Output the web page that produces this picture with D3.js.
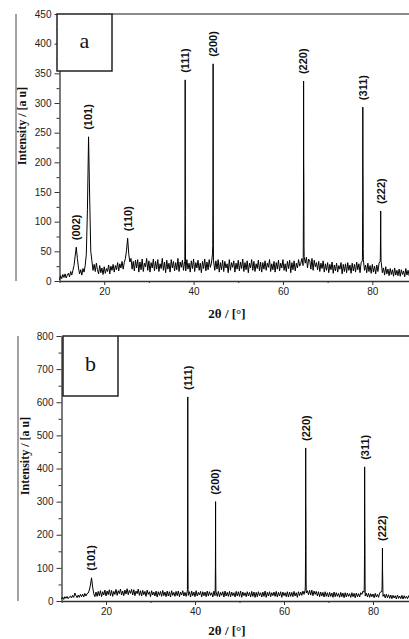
<!DOCTYPE html>
<html>
<head>
<meta charset="utf-8">
<script src="https://cdn.jsdelivr.net/npm/d3@7"></script>
<style>
  body { margin: 0; background: #fff; }
  .tick text { font-family: "Liberation Sans", Arial, sans-serif; font-size: 10px; fill: #222; }
  .hkl { font-family: "Liberation Sans", Arial, sans-serif; font-size: 11px; font-weight: bold; fill: #111; }
  .title { font-family: "Liberation Serif", "Times New Roman", serif; font-weight: bold; fill: #111; }
</style>
</head>
<body>
<div id="chart"></div>
<script>
// scan settings: counts are sampled every 0.25 deg from 10 deg
const startDeg = 10, stepDeg = 0.25;

// panel a background counts (10.00 .. 89.75)
const countsA = [
  2, 9, 4, 11, 6, 12, 5, 10,
  13, 7, 16, 10, 18, 26, 42, 57,
  38, 22, 12, 19, 10, 21, 15, 26,
  45, 120, 243, 140, 50, 34, 18, 28,
  16, 30, 19, 12, 26, 14, 22, 11,
  24, 13, 21, 16, 27, 12, 25, 18,
  28, 15, 26, 19, 31, 17, 29, 22,
  33, 20, 31, 38, 52, 72, 45, 32,
  38, 20, 33, 17, 35, 22, 36, 15,
  32, 19, 37, 16, 30, 24, 38, 18,
  34, 15, 31, 22, 37, 17, 33, 20,
  36, 16, 29, 21, 38, 18, 32, 14,
  35, 20, 30, 15, 36, 22, 33, 17,
  31, 19, 38, 16, 32, 23, 35, 18,
  33, 17, 36, 20, 30, 15, 34, 21,
  37, 16, 31, 22, 35, 18, 30, 14,
  33, 21, 37, 17, 32, 19, 36, 23,
  30, 47, 32, 18, 34, 20, 36, 15,
  31, 19, 35, 16, 33, 22, 29, 14,
  36, 18, 31, 23, 34, 15, 30, 20,
  35, 17, 32, 21, 37, 16, 31, 19,
  34, 14, 30, 22, 36, 18, 33, 16,
  29, 21, 35, 17, 32, 15, 31, 20,
  34, 18, 30, 23, 36, 16, 29, 19,
  33, 15, 31, 20, 35, 17, 30, 22,
  36, 18, 29, 16, 33, 21, 35, 14,
  31, 19, 34, 17, 30, 22, 36, 25,
  30, 38, 26, 41, 30, 40, 22, 37,
  34, 20, 38, 18, 35, 24, 31, 19,
  33, 16, 30, 21, 34, 15, 29, 18,
  31, 14, 28, 19, 32, 13, 27, 17,
  30, 15, 26, 20, 31, 12, 28, 16,
  29, 14, 31, 18, 27, 13, 30, 17,
  28, 15, 32, 19, 29, 14, 31, 34,
  36, 18, 27, 14, 30, 16, 26, 13,
  28, 15, 25, 12, 27, 16, 30, 33,
  31, 14, 22, 10, 24, 12, 20, 9,
  21, 11, 19, 8, 22, 10, 18, 9,
  20, 8, 19, 11, 17, 7, 21, 10,
  18, 9, 20, 7, 16, 10, 19, 8
];

// panel a sharp reflections [2theta, counts]
const peaksA = [
  [38.045, 35], [38.095, 120], [38.125, 339], [38.155, 110], [38.205, 32],
  [44.295, 60], [44.345, 150], [44.375, 366], [44.405, 130], [44.455, 35],
  [64.545, 40], [64.595, 140], [64.625, 337], [64.65, 210], [64.68, 172], [64.72, 60],
  [77.795, 40], [77.845, 120], [77.875, 293], [77.9, 200], [77.93, 160], [77.97, 55],
  [81.8, 40], [81.85, 80], [81.875, 118], [81.9, 75], [81.95, 35]
];

const hklA = ["(002)", "(101)", "(110)", "(111)", "(200)", "(220)", "(311)", "(222)"];
const hklPosA = [13.75, 16.5, 25.25, 38.125, 44.375, 64.625, 77.875, 81.875];
const hklTopA = [57, 243, 72, 339, 366, 337, 293, 118];

// panel b background counts (10.00 .. 89.75)
const countsB = [
  6, 12, 5, 13, 8, 14, 7, 12,
  15, 9, 17, 11, 24, 16, 10, 18,
  11, 20, 13, 21, 12, 23, 15, 22,
  24, 33, 48, 70, 42, 22, 13, 27,
  14, 29, 16, 31, 13, 28, 18, 33,
  15, 30, 19, 34, 16, 32, 14, 29,
  20, 35, 17, 31, 22, 36, 18, 30,
  16, 33, 21, 37, 19, 32, 23, 35,
  18, 34, 16, 30, 22, 36, 17, 31,
  15, 32, 19, 29, 14, 33, 20, 28,
  13, 31, 18, 27, 15, 30, 12, 28,
  17, 29, 14, 32, 16, 27, 13, 30,
  15, 28, 12, 31, 17, 26, 14, 29,
  16, 30, 13, 27, 18, 31, 15, 26,
  14, 29, 17, 28, 12, 30, 16, 27,
  13, 31, 15, 26, 18, 29, 12, 28,
  16, 27, 13, 30, 15, 28, 17, 25,
  12, 30, 16, 27, 14, 29, 13, 26,
  17, 28, 12, 30, 15, 26, 14, 29,
  13, 27, 16, 25, 12, 29, 15, 28,
  14, 30, 11, 27, 16, 25, 13, 28,
  15, 26, 12, 29, 14, 27, 11, 26,
  13, 28, 16, 25, 12, 27, 14, 30,
  11, 26, 15, 28, 13, 25, 16, 27,
  14, 29, 12, 26, 15, 28, 11, 27,
  16, 25, 13, 28, 12, 27, 14, 26,
  13, 29, 15, 25, 11, 28, 16, 27,
  17, 30, 20, 33, 24, 31, 19, 32,
  18, 33, 16, 30, 20, 29, 15, 28,
  13, 27, 15, 26, 12, 28, 14, 25,
  12, 26, 14, 24, 11, 27, 13, 25,
  14, 23, 11, 26, 13, 24, 10, 25,
  12, 24, 14, 22, 11, 25, 13, 23,
  10, 24, 13, 22, 12, 25, 20, 30,
  26, 15, 24, 12, 23, 11, 22, 13,
  21, 10, 23, 12, 20, 11, 24, 28,
  28, 14, 20, 9, 21, 10, 19, 8,
  18, 7, 17, 9, 16, 6, 18, 8,
  15, 7, 17, 6, 16, 8, 14, 7,
  16, 6, 15, 8, 13, 7, 14, 6
];

// panel b sharp reflections [2theta, counts]
const peaksB = [
  [38.295, 35], [38.345, 180], [38.375, 616], [38.405, 160], [38.455, 35],
  [44.545, 40], [44.595, 110], [44.625, 300], [44.655, 100], [44.705, 30],
  [64.795, 45], [64.845, 150], [64.875, 462], [64.9, 300], [64.93, 245], [64.97, 70],
  [78.045, 45], [78.095, 140], [78.125, 405], [78.15, 260], [78.18, 200], [78.22, 55],
  [82.045, 45], [82.095, 100], [82.125, 160], [82.15, 90], [82.18, 72], [82.22, 35]
];

const hklB = ["(101)", "(111)", "(200)", "(220)", "(311)", "(222)"];
const hklPosB = [16.75, 38.375, 44.625, 64.875, 78.125, 82.125];
const hklTopB = [70, 616, 300, 462, 405, 160];

// tick values
const xTicks = [20, 40, 60, 80];
const xMinor = [10, 30, 50, 70, 90];
const yTicksA = [0, 50, 100, 150, 200, 250, 300, 350, 400, 450];
const yMinorA = [25, 75, 125, 175, 225, 275, 325, 375, 425];
const yTicksB = [0, 100, 200, 300, 400, 500, 600, 700, 800];
const yMinorB = [50, 150, 250, 350, 450, 550, 650, 750];

const width = 409, height = 639;

const svg = d3.select("#chart")
  .append("svg")
    .attr("width", width)
    .attr("height", height)
    .style("display", "block");

function buildSeries(counts, peaks) {
  return counts.map((c, i) => [startDeg + i * stepDeg, c])
    .concat(peaks)
    .sort((p, q) => p[0] - q[0]);
}

function drawPanel(p) {
  const x = d3.scaleLinear().domain([10, 90]).range([p.x0, p.x1]);
  const y = d3.scaleLinear().domain([0, p.yMax]).range([p.yBottom, p.yTop]);
  const g = svg.append("g");

  // thin frame line left of the y label
  g.append("line")
    .attr("x1", p.frameX).attr("x2", p.frameX)
    .attr("y1", y(p.yMax)).attr("y2", y(0))
    .attr("stroke", "#444").attr("stroke-width", 1);

  // Add X axis
  g.append("g")
    .attr("transform", `translate(0,${y(0)})`)
    .call(d3.axisBottom(x).tickValues(xTicks).tickSize(4).tickSizeOuter(0).tickPadding(3))
    .call(a => a.select(".domain").attr("stroke", "#333").attr("stroke-width", 1.3))
    .call(a => a.selectAll(".tick line").attr("stroke", "#333"));
  g.append("g")
    .attr("transform", `translate(0,${y(0)})`)
    .call(d3.axisBottom(x).tickValues(xMinor).tickSize(2).tickFormat(""))
    .call(a => a.select(".domain").remove())
    .call(a => a.selectAll(".tick line").attr("stroke", "#333"));

  // Add Y axis
  g.append("g")
    .attr("transform", `translate(${x(10)},0)`)
    .call(d3.axisLeft(y).tickValues(p.yTicks).tickSize(5).tickSizeOuter(0).tickPadding(3))
    .call(a => a.select(".domain").attr("stroke", "#333").attr("stroke-width", 1.3))
    .call(a => a.selectAll(".tick line").attr("stroke", "#333"));
  g.append("g")
    .attr("transform", `translate(${x(10)},0)`)
    .call(d3.axisLeft(y).tickValues(p.yMinor).tickSize(3).tickFormat(""))
    .call(a => a.select(".domain").remove())
    .call(a => a.selectAll(".tick line").attr("stroke", "#333"));

  // top border line
  g.append("line")
    .attr("x1", p.boxX + p.boxW).attr("x2", width)
    .attr("y1", y(p.yMax)).attr("y2", y(p.yMax))
    .attr("stroke", p.topColor).attr("stroke-width", p.topWidth);

  // the pattern
  g.append("path")
    .datum(buildSeries(p.counts, p.peaks))
    .attr("fill", "none")
    .attr("stroke", "#000")
    .attr("stroke-width", 1)
    .attr("d", d3.line()
      .x(d => x(d[0]))
      .y(d => y(d[1])));

  // reflection labels
  g.selectAll(".hkl")
    .data(p.hkl)
    .join("text")
      .attr("class", "hkl")
      .attr("transform", (d, i) => `translate(${x(p.hklPos[i])},${y(p.hklTop[i]) - 7}) rotate(-90)`)
      .attr("dy", "0.35em")
      .attr("text-anchor", "start")
      .text(d => d);

  // panel letter box
  g.append("rect")
    .attr("x", p.boxX).attr("y", y(p.yMax))
    .attr("width", p.boxW).attr("height", p.boxH)
    .attr("fill", "#fff").attr("stroke", "#222").attr("stroke-width", 1.5);
  g.append("text")
    .attr("x", p.boxX + p.boxW / 2)
    .attr("y", y(p.yMax) + p.letterBase)
    .attr("text-anchor", "middle")
    .style("font-family", "'Liberation Serif', 'Times New Roman', serif")
    .style("font-size", "22px")
    .attr("fill", "#111")
    .text(p.letter);

  // axis titles
  g.append("text")
    .attr("class", "title")
    .attr("x", 227)
    .attr("y", p.xTitleY)
    .attr("text-anchor", "middle")
    .style("font-size", "13px")
    .text("2θ / [°]");
  g.append("text")
    .attr("class", "title")
    .attr("transform", `translate(${p.yTitleX},${p.yTitleY}) rotate(-90)`)
    .attr("text-anchor", "middle")
    .style("font-size", "12px")
    .text("Intensity / [a u]");
}

drawPanel({
  counts: countsA, peaks: peaksA, hkl: hklA, hklPos: hklPosA, hklTop: hklTopA,
  yMax: 450, yTicks: yTicksA, yMinor: yMinorA,
  x0: 59.5, x1: 417, yBottom: 281, yTop: 14,
  frameX: 16, boxX: 57, boxW: 55, boxH: 57, letter: "a", letterBase: 34,
  topColor: "#8c8c8c", topWidth: 2,
  xTitleY: 318, yTitleX: 26, yTitleY: 126
});

drawPanel({
  counts: countsB, peaks: peaksB, hkl: hklB, hklPos: hklPosB, hklTop: hklTopB,
  yMax: 800, yTicks: yTicksB, yMinor: yMinorB,
  x0: 61.5, x1: 417.5, yBottom: 601, yTop: 336,
  frameX: 18, boxX: 63, boxW: 55, boxH: 60, letter: "b", letterBase: 35,
  topColor: "#222", topWidth: 1.5,
  xTitleY: 635, yTitleX: 29, yTitleY: 456
});
</script>
</body>
</html>
